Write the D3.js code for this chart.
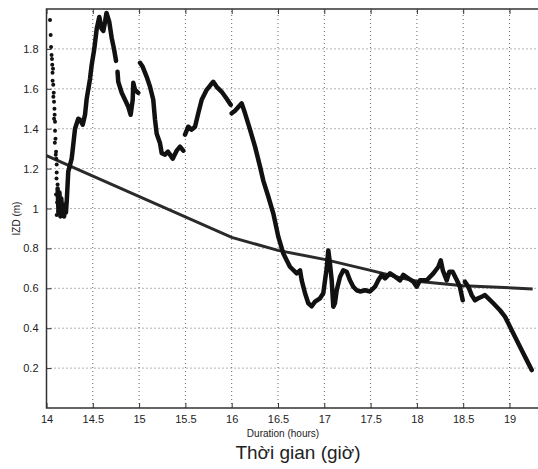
<!DOCTYPE html>
<html>
<head>
<meta charset="utf-8">
<script src="https://cdn.jsdelivr.net/npm/d3@7"></script>
<style>
  body { margin: 0; background: #fff; }
  text { font-family: "Liberation Sans", Arial, sans-serif; fill: #222; }
</style>
</head>
<body>
<svg width="538" height="469"></svg>
<script>
// tick labels
const xTicks = [14, 14.5, 15, 15.5, 16, 16.5, 17, 17.5, 18, 18.5, 19];
const yTicks = [0.2, 0.4, 0.6, 0.8, 1, 1.2, 1.4, 1.6, 1.8];

// loose points at the start of the record
const scatterHours = [14.038, 14.045, 14.049, 14.055, 14.059, 14.062, 14.065, 14.07, 14.073, 14.066, 14.078, 14.081,
  14.086, 14.074, 14.088, 14.092, 14.082, 14.092, 14.097, 14.103, 14.09, 14.106, 14.11, 14.1, 14.11, 14.108, 14.103,
  14.127, 14.11, 14.12, 14.115];
const scatterIzd = [1.945, 1.87, 1.81, 1.77, 1.75, 1.72, 1.68, 1.70, 1.62, 1.64, 1.58, 1.535,
  1.5, 1.56, 1.47, 1.435, 1.45, 1.39, 1.35, 1.285, 1.33, 1.25, 1.22, 1.27, 1.18, 1.15, 1.07,
  0.985, 0.967, 1.12, 1.03];

// measured IZD (null = gap in the record)
const hours = [14.12, 14.13, 14.14, 14.15, 14.16, 14.17, 14.18, 14.19, 14.2, 14.21, 14.22,
  14.235, 14.272, 14.289, 14.308, 14.343, 14.362, 14.391, 14.416, 14.434, 14.47, 14.488, 14.516,
  14.542, 14.57, 14.596, 14.613, 14.632, 14.648, 14.678, 14.704, 14.729, 14.751, 14.759,
  14.767, 14.775, 14.812, 14.848, 14.883, 14.909, 14.931, 14.937, 14.956, 14.991, 15.0,
  15.01, 15.039, 15.082, 15.118, 15.153, 15.172, 15.19, 15.226, 15.244, 15.28, 15.312, 15.334,
  15.363, 15.406, 15.442, 15.477, 15.487,
  15.496, 15.531, 15.568, 15.604, 15.639, 15.676, 15.73, 15.773, 15.801, 15.838, 15.892, 15.946,
  15.989, 15.995,
  16.0, 16.036, 16.108, 16.144, 16.198, 16.252, 16.306, 16.341, 16.395, 16.449, 16.503, 16.557,
  16.629, 16.702, 16.738, 16.756, 16.792, 16.827, 16.864, 16.9, 16.954, 16.989, 17.008, 17.026,
  17.043, 17.061, 17.08, 17.097, 17.115, 17.134, 17.17, 17.205, 17.242, 17.277, 17.313, 17.35,
  17.386, 17.44, 17.494, 17.548, 17.583, 17.62, 17.656, 17.71, 17.764, 17.818, 17.853, 17.907,
  17.961, 17.998, 18.034, 18.106, 18.178, 18.232, 18.258, 18.28, 18.322, 18.35, 18.386, 18.432,
  18.464, 18.495, 18.507,
  18.519, 18.555, 18.592, 18.627, 18.663, 18.7, 18.735, 18.771, 18.825, 18.897, 18.951, 18.987,
  19.024, 19.078, 19.132, 19.186, 19.24];
const izd = [1.10, 0.98, 1.08, 0.96, 1.05, 0.97, 1.02, 0.96, 1.0, 0.98, 1.05,
  1.185, 1.25, 1.32, 1.40, 1.45, 1.445, 1.42, 1.47, 1.55, 1.65, 1.72, 1.80,
  1.90, 1.96, 1.90, 1.89, 1.935, 1.98, 1.935, 1.855, 1.80, 1.74, null,
  1.685, 1.635, 1.58, 1.545, 1.51, 1.47, 1.545, 1.63, 1.595, 1.58, null,
  1.73, 1.71, 1.66, 1.61, 1.545, 1.445, 1.375, 1.327, 1.277, 1.27, 1.285, 1.27,
  1.25, 1.29, 1.31, 1.29, null,
  1.37, 1.41, 1.395, 1.41, 1.477, 1.545, 1.595, 1.62, 1.635, 1.61, 1.585, 1.55,
  1.52, null,
  1.477, 1.49, 1.527, 1.477, 1.395, 1.31, 1.21, 1.14, 1.06, 0.976, 0.859, 0.775,
  0.708, 0.675, 0.69, 0.64, 0.575, 0.525, 0.51, 0.533, 0.55, 0.575, 0.64, 0.70,
  0.79, 0.725, 0.64, 0.508, 0.525, 0.59, 0.658, 0.69, 0.683, 0.64, 0.608, 0.59,
  0.584, 0.59, 0.584, 0.608, 0.64, 0.667, 0.65, 0.675, 0.658, 0.64, 0.667, 0.65,
  0.633, 0.608, 0.64, 0.64, 0.675, 0.708, 0.74, 0.69, 0.64, 0.683, 0.683, 0.64,
  0.608, 0.54, null,
  0.633, 0.608, 0.566, 0.54, 0.55, 0.558, 0.566, 0.55, 0.525, 0.49, 0.458, 0.425,
  0.39, 0.34, 0.29, 0.24, 0.19];

// fitted trend
const trendHours = [14, 16, 16.5, 17, 17.5, 17.8, 18, 18.5, 19.25];
const trendIzd = [1.265, 0.855, 0.79, 0.745, 0.69, 0.655, 0.635, 0.613, 0.597];

const svg = d3.select('svg');
const margin = {top: 9, left: 46.5, bottom: 61};
const height = 469 - margin.top - margin.bottom;

const x = d3.scaleLinear().domain([14, 19.5]).range([margin.left, margin.left + 92.6 * 5.5]);
const y = d3.scaleLinear().domain([0, 2]).range([margin.top + height, margin.top]);

// grid
const grid = svg.append('g')
  .attr('stroke', '#666')
  .attr('stroke-width', 1)
  .attr('stroke-dasharray', '1,3');
grid.selectAll('.gx').data(xTicks.slice(1))
  .enter().append('line')
    .attr('x1', d => x(d)).attr('x2', d => x(d))
    .attr('y1', y(0)).attr('y2', y(2));
grid.selectAll('.gy').data(yTicks)
  .enter().append('line')
    .attr('x1', x(14)).attr('x2', 538)
    .attr('y1', d => y(d)).attr('y2', d => y(d));

// frame
svg.append('path')
  .attr('d', `M538,${y(2)}H${x(14)}V${y(0)}H538`)
  .attr('fill', 'none')
  .attr('stroke', '#333')
  .attr('stroke-width', 1.5);

// axes (inward ticks)
svg.append('g')
  .attr('transform', `translate(0,${y(0)})`)
  .call(d3.axisBottom(x).tickValues(xTicks).tickSize(-5).tickPadding(7).tickFormat(d3.format('')))
  .call(g => g.select('.domain').remove())
  .call(g => g.selectAll('line').attr('stroke', '#333'))
  .call(g => g.selectAll('text').attr('font-size', 11).attr('fill', '#222'));
svg.append('g')
  .attr('transform', `translate(0,${y(2)})`)
  .call(d3.axisTop(x).tickValues(xTicks).tickSize(-5).tickFormat(''))
  .call(g => g.select('.domain').remove())
  .call(g => g.selectAll('line').attr('stroke', '#333'));
svg.append('g')
  .attr('transform', `translate(${x(14)},0)`)
  .call(d3.axisLeft(y).tickValues(yTicks).tickSize(-5).tickPadding(8).tickFormat(d3.format('')))
  .call(g => g.select('.domain').remove())
  .call(g => g.selectAll('line').attr('stroke', '#333'))
  .call(g => g.selectAll('text').attr('font-size', 11).attr('fill', '#222'));

// trend line
const trend = d3.zip(trendHours, trendIzd);
svg.append('path')
  .datum(trend)
  .attr('fill', 'none')
  .attr('stroke', '#2a2a2a')
  .attr('stroke-width', 3)
  .attr('d', d3.line().x(d => x(d[0])).y(d => y(d[1])));

// measured series
const measured = d3.zip(hours, izd);
svg.append('path')
  .datum(measured)
  .attr('fill', 'none')
  .attr('stroke', '#111')
  .attr('stroke-width', 4.5)
  .attr('stroke-linejoin', 'round')
  .attr('stroke-linecap', 'round')
  .attr('d', d3.line().defined(d => d[1] !== null).x(d => x(d[0])).y(d => y(d[1])));

svg.append('g')
  .selectAll('circle')
  .data(d3.zip(scatterHours, scatterIzd))
  .enter().append('circle')
    .attr('cx', d => x(d[0]))
    .attr('cy', d => y(d[1]))
    .attr('r', 2)
    .attr('fill', '#111');

// labels
svg.append('text')
  .attr('transform', `translate(20,${(y(0) + y(2)) / 2 + 10}) rotate(-90)`)
  .attr('text-anchor', 'middle')
  .attr('font-size', 10)
  .text('IZD (m)');
svg.append('text')
  .attr('x', 283).attr('y', 437)
  .attr('text-anchor', 'middle')
  .attr('font-size', 10)
  .text('Duration (hours)');
svg.append('text')
  .attr('x', 298).attr('y', 459)
  .attr('text-anchor', 'middle')
  .attr('font-size', 19)
  .attr('fill', '#111')
  .text('Thời gian (giờ)');
</script>
</body>
</html>
